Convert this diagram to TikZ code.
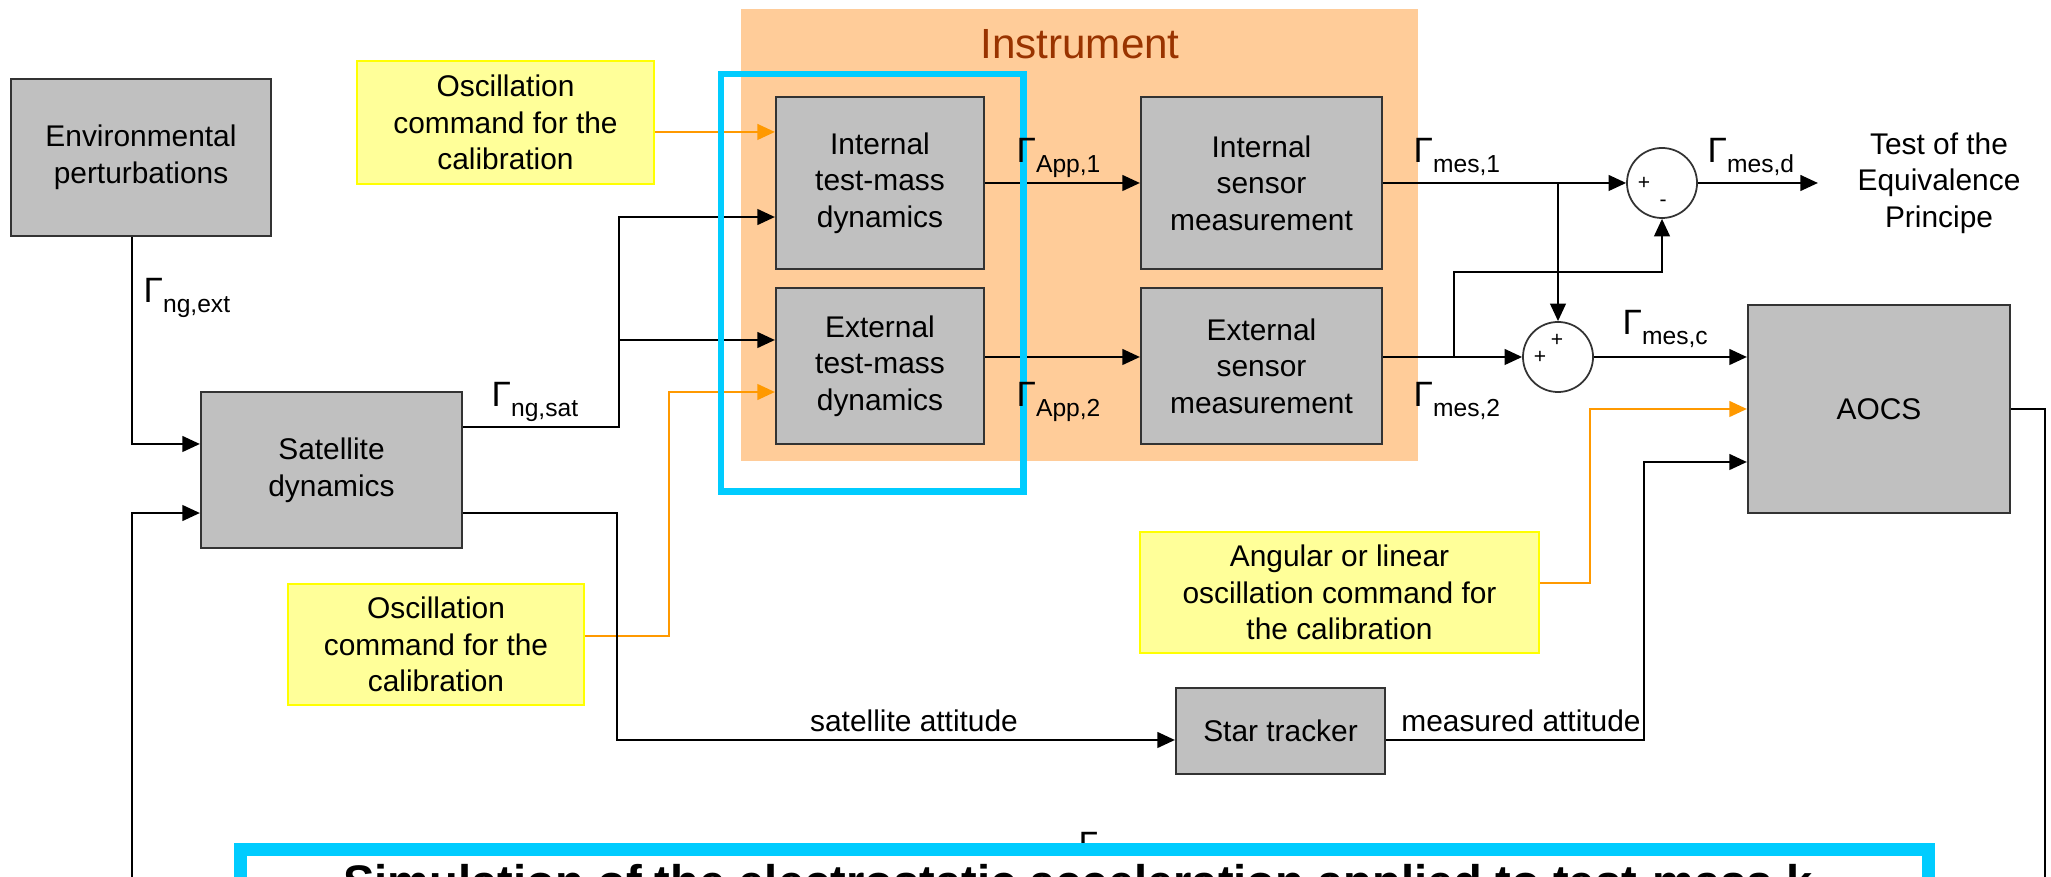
\documentclass[tikz,border=0pt]{standalone}
\usepackage{fontspec}
\setmainfont{Liberation Sans}
\usetikzlibrary{arrows.meta,calc}
\definecolor{boxgray}{HTML}{C0C0C0}
\definecolor{boxline}{HTML}{333333}
\definecolor{yfill}{HTML}{FFFF99}
\definecolor{ydraw}{HTML}{FFFF00}
\definecolor{instr}{HTML}{FFCC99}
\definecolor{instrtxt}{HTML}{993300}
\definecolor{ora}{HTML}{FF9900}
\definecolor{cyanb}{HTML}{00CCFF}
\newcommand{\bodyfont}{\fontsize{8.5}{10.4}\selectfont}
\newcommand{\glab}[1]{{\fontsize{10}{10}\selectfont Γ}\raisebox{-0.1cm}{\fontsize{7}{7}\selectfont #1}}
\tikzset{
  every node/.style={font=\bodyfont},
  gbox/.style={draw=boxline, fill=boxgray, line width=0.6pt, align=center, inner sep=0pt},
  ybox/.style={draw=ydraw, fill=yfill, line width=0.6pt, align=center, inner sep=0pt},
  sumc/.style={circle, draw=boxline, fill=white, line width=0.5pt, minimum size=0.70cm, inner sep=0pt},
  arr/.style={draw=black, line width=0.55pt, -{Triangle[length=5pt,width=4.5pt]}},
  oarr/.style={draw=ora, line width=0.55pt, -{Triangle[length=5pt,width=4.5pt]}},
  glabel/.style={anchor=base west, inner sep=0pt},
  sgn/.style={font=\fontsize{6}{6}\selectfont, inner sep=0pt},
}
\begin{document}
\begin{tikzpicture}[x=0.01cm,y=-0.01cm]
\useasboundingbox (0,0) rectangle (2051,877);
\clip (0,0) rectangle (2051,877);
\fill[white] (0,0) rectangle (2051,877);

% instrument background
\node[fill=instr, minimum width=6.77cm, minimum height=4.52cm, inner sep=0pt, anchor=north west] (instrbg) at (740,8) {};
\node[text=instrtxt, font=\fontsize{12}{12}\selectfont, inner sep=0pt] (instrtitle) at (1080,44) {Instrument};

% blocks
\node[gbox, minimum width=2.60cm, minimum height=1.57cm] (env) at (141,157.5) {Environmental\\perturbations};
\node[ybox, minimum width=2.97cm, minimum height=1.23cm] (yel1) at (505.5,122.5) {Oscillation\\command for the\\calibration};
\node[gbox, minimum width=2.61cm, minimum height=1.56cm] (sat) at (331.5,470) {Satellite\\dynamics};
\node[ybox, minimum width=2.96cm, minimum height=1.21cm] (yel2) at (436,644.5) {Oscillation\\command for the\\calibration};
\node[gbox, minimum width=2.08cm, minimum height=1.72cm] (itm) at (880,183) {Internal\\test-mass\\dynamics};
\node[gbox, minimum width=2.08cm, minimum height=1.56cm] (etm) at (880,366) {External\\test-mass\\dynamics};
\node[gbox, minimum width=2.41cm, minimum height=1.72cm] (isen) at (1261.5,183) {Internal\\sensor\\measurement};
\node[gbox, minimum width=2.41cm, minimum height=1.56cm] (esen) at (1261.5,366) {External\\sensor\\measurement};
\node[sumc] (sum1) at (1662,183) {};
\node[sumc] (sum2) at (1558,357) {};
\node[gbox, minimum width=2.62cm, minimum height=2.08cm] (aocs) at (1879,409) {AOCS};
\node[ybox, minimum width=3.99cm, minimum height=1.21cm] (yel3) at (1339.5,592.5) {Angular or linear\\oscillation command for\\the calibration};
\node[gbox, minimum width=2.09cm, minimum height=0.86cm] (star) at (1280.5,731) {Star tracker};
\node[align=center, inner sep=0pt] (tep) at (1939,183) {Test of the\\Equivalence\\Principe};

% signs in summing junctions
\node[sgn] (s1a) at (1644,183) {+};
\node[sgn] (s1b) at (1663,203) {-};
\node[sgn] (s2a) at (1557,340) {+};
\node[sgn] (s2b) at (1540,357) {+};

% connectors
\draw[arr] ([xshift=-0.09cm]env.south) |- ([yshift=0.26cm]sat.west);
\coordinate (jsat) at (619,340);
\draw[arr] ([yshift=0.43cm]sat.east) -| (jsat) |- ([yshift=-0.34cm]itm.west);
\draw[arr] (jsat) -- (etm.west |- jsat);
\coordinate (oi) at ([yshift=0.51cm]itm.west);
\draw[oarr] (yel1.east |- oi) -- (oi);
\draw[oarr] ([yshift=0.085cm]yel2.east) -| ([xshift=-1.06cm,yshift=-0.26cm]etm.west) -- ([yshift=-0.26cm]etm.west);
\draw[arr] (itm) -- (isen);
\draw[arr] ([yshift=0.09cm]etm.east) -- ([yshift=0.09cm]esen.west);
\draw[arr] (isen) -- (sum1);
\draw[arr] (sum2.north |- isen.east) -- (sum2.north);
\draw[arr] ([yshift=0.09cm]esen.east) -- (sum2.west);
\coordinate (j2) at ($(esen.east)+(71,-9)$);
\draw[arr] (j2) |- ($(sum1.south)+(0,53)$) -- (sum1.south);
\draw[arr] (sum1.east) -- ++(120,0);
\draw[arr] (sum2.east) -- (sum2.east -| aocs.west);
\draw[oarr] ([yshift=0.095cm]yel3.east) -| ($(aocs.west)+(-157,0)$) -- (aocs.west);
\draw[arr] ([yshift=-0.09cm]star.east) -| ($(aocs.west)+(-103,53)$) -- ($(aocs.west)+(0,53)$);
\draw[arr] ([yshift=-0.43cm]sat.east) -| ($(star.west)+(-558,9)$) -- ($(star.west)+(0,9)$);
\draw[arr] (aocs.east) -- ++(34,0) |- (132,960) |- ([yshift=-0.43cm]sat.west);

% highlight of the test-mass dynamics
\node[draw=cyanb, line width=1.8pt, minimum width=3.02cm, minimum height=4.17cm, inner sep=0pt, anchor=north west] (hl1) at (718,71) {};

% labels
\node[glabel] (gext) at (143,303) {\glab{ng,ext}};
\node[glabel] (gsat) at (491,407) {\glab{ng,sat}};
\node[glabel] (gapp1) at (1016,163) {\glab{App,1}};
\node[glabel] (gapp2) at (1016,407) {\glab{App,2}};
\node[glabel] (gmes1) at (1413,163) {\glab{mes,1}};
\node[glabel] (gmes2) at (1413,407) {\glab{mes,2}};
\node[glabel] (gmesd) at (1707,163) {\glab{mes,d}};
\node[glabel] (gmesc) at (1622,335) {\glab{mes,c}};
\node[anchor=base, inner sep=0pt] (satt) at (914,732) {satellite attitude};
\node[anchor=base, inner sep=0pt] (matt) at (1521,732) {measured attitude};

% bottom (cropped) box
\node[anchor=north west, inner sep=0pt, font=\fontsize{10}{10}\selectfont] (ghid) at (1078,832) {Γ};
\node[draw=cyanb, fill=white, line width=3.7pt, minimum width=16.87cm, minimum height=2cm, inner sep=0pt, anchor=north west] (hl2) at (234,843) {};
\node[anchor=base, inner sep=0pt, font=\bfseries\fontsize{13.4}{14}\selectfont] (simtxt) at (1078,899) {Simulation of the electrostatic acceleration applied to test-mass k};
\end{tikzpicture}
\end{document}
